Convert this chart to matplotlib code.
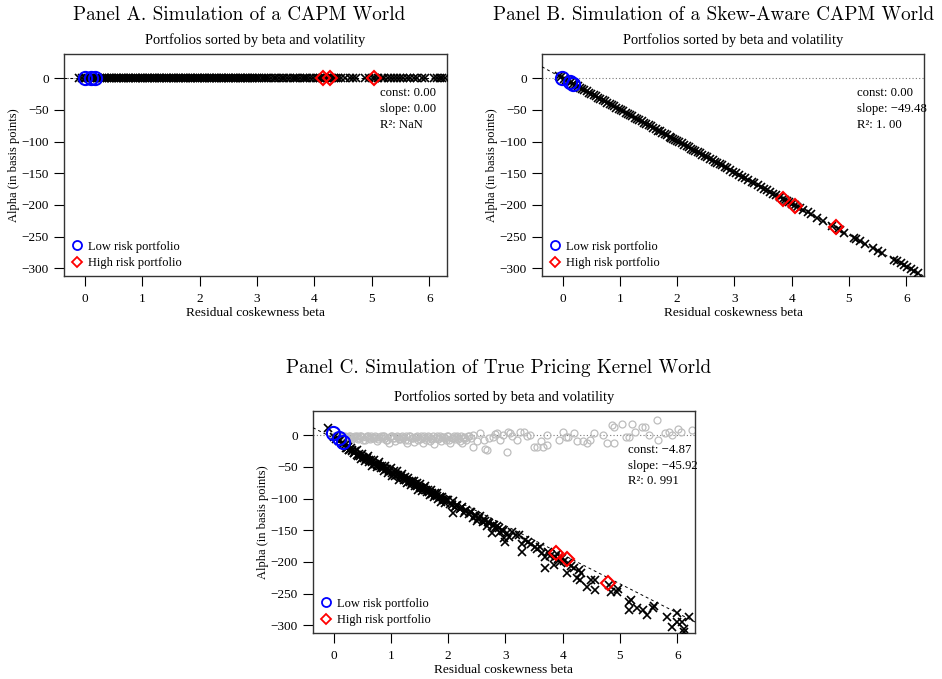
import matplotlib
matplotlib.use('Agg')
import matplotlib.pyplot as plt
from matplotlib.lines import Line2D

plt.rcParams['font.family'] = ['Liberation Serif', 'DejaVu Serif']

# ---------------- Data ----------------
xticks = [0, 1, 2, 3, 4, 5, 6]
yticks = [0, -50, -100, -150, -200, -250, -300]

# Panel A (CAPM world): all alphas zero
beta_a = [-0.10, -0.05, 0.00, 0.03, 0.06, 0.09, 0.12, 0.15, 0.18, 0.21, 0.24, 0.27, 0.30, 0.33,
          0.36, 0.39, 0.42, 0.45, 0.48, 0.51, 0.54, 0.57, 0.60, 0.63, 0.66, 0.69, 0.72, 0.75,
          0.78, 0.81, 0.84, 0.87, 0.90, 0.93, 0.96, 0.99, 1.02, 1.05, 1.08, 1.11, 1.14, 1.17,
          1.20, 1.23, 1.26, 1.29, 1.32, 1.35, 1.38, 1.41, 1.44, 1.47, 1.50, 1.53, 1.56, 1.59,
          1.62, 1.65, 1.68, 1.71, 1.74, 1.77, 1.80, 1.83, 1.86, 1.89, 1.92, 1.95, 1.98, 2.01,
          2.04, 2.07, 2.10, 2.13, 2.16, 2.19, 2.22, 2.25, 2.28, 2.31, 2.34, 2.37, 2.40, 2.43,
          2.46, 2.49, 2.52, 2.55, 2.58, 2.61, 2.64, 2.67, 2.70, 2.73, 2.76, 2.79, 2.82, 2.85,
          2.88, 2.91, 2.94, 2.97, 3.00, 3.04, 3.08, 3.12, 3.16, 3.20, 3.25, 3.30, 3.34, 3.38,
          3.43, 3.48, 3.52, 3.57, 3.62, 3.66, 3.70, 3.75, 3.80, 3.84, 3.88, 3.93, 3.97, 4.02,
          4.06, 4.10, 4.14, 4.18, 4.22, 4.26, 4.30, 4.34, 4.38, 4.42, 4.47, 4.53, 4.62, 4.68,
          4.72, 4.88, 4.95, 5.02, 5.06, 5.10, 5.18, 5.22, 5.28, 5.33, 5.38, 5.44, 5.50, 5.55,
          5.62, 5.67, 5.73, 5.78, 5.88, 5.92, 6.08, 6.13, 6.18, 6.22, 6.28]
alpha_a = [0.0] * len(beta_a)
low_beta_a = [0.00, 0.117, 0.175]
low_alpha_a = [0.0, 0.0, 0.0]
high_beta_a = [4.15, 4.28, 5.03]
high_alpha_a = [0.0, 0.0, 0.0]
fit_a = (0.0, 0.0)
stats_a = ["const: 0.00", "slope: 0.00", "R\u00b2: NaN"]

# Panel B (skew-aware CAPM world)
beta_b = [-0.06, -0.02, 0.02, 0.06, 0.10, 0.14, 0.18, 0.22, 0.26, 0.30, 0.34, 0.38, 0.42, 0.46,
          0.50, 0.54, 0.58, 0.62, 0.66, 0.70, 0.74, 0.78, 0.82, 0.86, 0.90, 0.94, 0.98, 1.02,
          1.06, 1.10, 1.14, 1.18, 1.22, 1.26, 1.30, 1.34, 1.38, 1.42, 1.46, 1.50, 1.54, 1.58,
          1.63, 1.67, 1.70, 1.74, 1.78, 1.82, 1.87, 1.90, 1.93, 1.97, 2.00, 2.04, 2.08, 2.12,
          2.17, 2.21, 2.25, 2.28, 2.32, 2.36, 2.40, 2.44, 2.48, 2.52, 2.58, 2.62, 2.66, 2.70,
          2.74, 2.78, 2.83, 2.87, 2.92, 2.98, 3.03, 3.08, 3.14, 3.19, 3.24, 3.30, 3.35, 3.41,
          3.46, 3.52, 3.57, 3.62, 3.68, 3.73, 3.80, 3.84, 3.88, 3.91, 3.95, 4.00, 4.05, 4.10,
          4.15, 4.20, 4.28, 4.34, 4.45, 4.55, 4.70, 4.80, 4.85, 4.92, 5.08, 5.13, 5.20, 5.28,
          5.42, 5.50, 5.58, 5.78, 5.84, 5.90, 5.96, 6.02, 6.08, 6.14, 6.20]
alpha_b = [2.97, 0.99, -0.99, -2.97, -4.95, -6.93, -8.91, -10.89, -12.86, -14.84, -16.82, -18.80,
           -20.78, -22.76, -24.74, -26.72, -28.70, -30.68, -32.66, -34.64, -36.62, -38.59, -40.57,
           -42.55, -44.53, -46.51, -48.49, -50.47, -52.45, -54.43, -56.41, -58.39, -60.37, -62.34,
           -64.32, -66.30, -68.28, -70.26, -72.24, -74.22, -76.20, -78.18,
           -80.65, -82.63, -84.12, -86.10, -88.07, -90.05, -92.53, -94.01, -95.50, -97.48, -98.96,
           -100.94, -102.92, -104.90, -107.37, -109.35, -111.33, -112.81, -114.79, -116.77,
           -118.75, -120.73, -122.71, -124.69, -127.66, -129.64, -131.62, -133.60, -135.58,
           -137.55, -140.03, -142.01, -144.48, -147.45, -149.92, -152.40, -155.37, -157.84,
           -160.32, -163.28, -165.76, -168.73, -171.20, -174.17, -176.64, -179.12, -182.09,
           -184.56, -188.02, -190.00, -191.98, -193.47, -195.45, -197.92, -200.39, -202.87,
           -205.34, -207.82, -211.77, -214.74, -220.19, -225.13, -232.56, -237.50, -239.98,
           -243.44, -251.36, -253.83, -257.30, -261.25, -268.18, -272.14, -276.10, -286.00,
           -288.96, -291.93, -294.90, -297.87, -300.84, -303.81, -306.78]
low_beta_b = [-0.01, 0.134, 0.19]
low_alpha_b = [-0.5, -5.8, -9.5]
high_beta_b = [3.84, 4.06, 4.77]
high_alpha_b = [-191.0, -202.0, -235.5]
fit_b = (0.0, -49.48)
stats_b = ["const: 0.00", "slope: \u221249.48", "R\u00b2: 1. 00"]

# Panel C (true pricing kernel world)
beta_c = [-0.10, 0.00, 0.05, 0.10, 0.12, 0.15, 0.17,
          0.200, 0.225, 0.250, 0.275, 0.300, 0.325, 0.350, 0.375, 0.400, 0.425, 0.450, 0.475,
          0.500, 0.525, 0.550, 0.575, 0.600, 0.625, 0.650, 0.675, 0.700, 0.725, 0.750, 0.775,
          0.800, 0.825, 0.850, 0.875, 0.900, 0.925, 0.950, 0.975, 1.000, 1.025, 1.050, 1.075,
          1.100, 1.125, 1.150, 1.175, 1.200, 1.225, 1.250, 1.275, 1.300, 1.325, 1.350, 1.375,
          1.400, 1.425, 1.450, 1.475, 1.500, 1.525, 1.550, 1.575, 1.600, 1.625, 1.650, 1.675,
          1.700, 1.725, 1.750, 1.775, 1.800, 1.825, 1.850, 1.875, 1.900, 1.925, 1.950, 1.975,
          2.000,
          0.2125, 0.2625, 0.3125, 0.3625, 0.4125, 0.4625, 0.5125, 0.5625, 0.6125, 0.6625,
          0.7125, 0.7625, 0.8125, 0.8625, 0.9125, 0.9625, 1.0125, 1.0625, 1.1125, 1.1625,
          1.2125, 1.2625, 1.3125, 1.3625, 1.4125, 1.4625, 1.5125, 1.5625, 1.6125, 1.6625,
          1.7125, 1.7625, 1.8125, 1.8625, 1.9125, 1.9625,
          2.04, 2.06, 2.08, 2.09, 2.12, 2.14, 2.16, 2.20, 2.22, 2.24, 2.28, 2.30, 2.32, 2.36,
          2.38, 2.40, 2.44, 2.46, 2.48, 2.50, 2.52, 2.54, 2.56, 2.60, 2.62, 2.64, 2.68, 2.70,
          2.72, 2.76, 2.78, 2.80, 2.82, 2.86, 2.88, 2.90, 2.94, 2.96, 2.98, 3.00, 3.02, 3.06,
          3.12, 3.18, 3.24, 3.29, 3.29, 3.34, 3.40, 3.45, 3.52, 3.55, 3.60, 3.64, 3.69, 3.69,
          3.74, 3.78, 3.84, 3.86, 3.90, 3.92, 3.95, 3.98, 4.02, 4.07, 4.10, 4.14, 4.20, 4.25,
          4.28, 4.30, 4.32, 4.42, 4.50, 4.57, 4.57, 4.80, 4.85, 4.95, 4.97, 5.15, 5.15, 5.20,
          5.30, 5.41, 5.47, 5.58, 5.60, 5.82, 5.91, 5.99, 5.99, 6.08, 6.11, 6.12, 6.20]
alpha_c = [11, -3, -6, -9, -8, -12, -14,
           -15, -20, -18, -23, -20, -24, -29, -25, -24, -33, -30, -38,
           -30, -36, -41, -36, -33, -43, -39, -48, -39, -45, -50, -45,
           -43, -52, -48, -57, -48, -54, -59, -55, -52, -65, -57, -64,
           -57, -63, -70, -64, -61, -70, -66, -76, -67, -74, -78, -73,
           -72, -80, -76, -86, -77, -83, -88, -83, -81, -89, -86, -95,
           -87, -93, -97, -92, -92, -100, -97, -105, -97, -103, -107, -103,
           -102,
           -20, -23, -25, -28, -31, -33, -35, -38, -40, -42,
           -45, -47, -49, -52, -54, -56, -59, -61, -63, -66,
           -68, -70, -73, -75, -77, -80, -82, -84, -87, -89,
           -91, -94, -96, -98, -101, -103,
           -108, -110, -104, -123, -114, -111, -110, -116, -115, -113, -123, -119, -118, -124,
           -121, -121, -131, -126, -127, -135, -132, -130, -128, -137, -133, -135, -143, -137,
           -138, -155, -141, -142, -146, -143, -147, -152, -149, -151, -162, -168, -154, -160,
           -152, -158, -157, -171, -184, -165, -168, -172, -176, -180, -177, -186, -192, -209,
           -185, -190, -205, -192, -188, -196, -200, -194, -198, -218, -201, -206, -210, -226,
           -213, -229, -218, -239, -228, -229, -244, -236, -248, -247, -242, -263, -276, -260,
           -273, -276, -283, -273, -270, -286, -302, -281, -294, -294, -305, -310, -286]
gray_beta_c = [0.00, 0.04, 0.08, 0.12, 0.16, 0.20, 0.24, 0.28, 0.32, 0.36, 0.40, 0.44, 0.48,
               0.52, 0.56, 0.60, 0.64, 0.68, 0.72, 0.76, 0.80, 0.84, 0.88, 0.92, 0.96, 1.00,
               1.04, 1.08, 1.12, 1.16, 1.20, 1.24, 1.28, 1.32, 1.36, 1.40, 1.44, 1.48, 1.52,
               1.56, 1.60, 1.64, 1.68, 1.72, 1.76, 1.80, 1.84, 1.88, 1.92, 1.96, 2.00, 2.04,
               2.08, 2.12, 2.16, 2.20, 2.24, 2.28, 2.32, 2.36,
               0.22, 0.26, 0.30, 0.34, 0.38, 0.42, 0.46, 0.50, 0.54, 0.58, 0.62, 0.66, 0.70,
               0.74, 0.78, 0.82, 0.86, 0.90, 0.94, 0.98, 1.02, 1.06, 1.10, 1.14, 1.18, 1.22,
               1.26, 1.30, 1.34, 1.38, 1.42, 1.46, 1.50, 1.54, 1.58, 1.62, 1.66, 1.70, 1.74,
               1.78, 1.82, 1.86, 1.90, 1.94, 1.98, 2.02, 2.06, 2.10, 2.14, 2.18, 2.22, 2.26,
               2.30, 2.34,
               2.40, 2.44, 2.44, 2.50, 2.55, 2.62, 2.65, 2.68, 2.72, 2.79, 2.82, 2.85, 2.90,
               2.95, 3.03, 3.05, 3.08, 3.12, 3.20, 3.25, 3.32, 3.38, 3.43, 3.50, 3.55, 3.62,
               3.66, 3.72, 3.72, 3.93, 4.01, 4.05, 4.10, 4.19, 4.25, 4.36, 4.42, 4.48, 4.54,
               4.71, 4.77, 4.86, 4.89, 4.89, 5.03, 5.10, 5.15, 5.21, 5.27, 5.38, 5.44, 5.50,
               5.64, 5.67, 5.79, 5.85, 5.91, 6.02, 6.06, 6.25]
gray_alpha_c = [-1, -2, -1, -3, -2, -1, -4, -2, -6, -3, -1, -5, -2, -8, -3, -1, -6, -4, -2, -9,
                -3, -5, -1, -7, -12, -2, -4, -10, -3, -6, -1, -8, -13, -2, -5, -11, -3, -7, -2,
                -12, -4, -1, -9, -6, -14, -2, -5, -10, -3, -8, -1, -12, -4, -6, -2, -9, -13, -3,
                -7, -1,
                -4, -1, -3, -5, -2, -6, -1, -3, -7, -2, -4, -1, -5, -3, -6, -2, -1, -4, -7, -3,
                -2, -5, -1, -6, -3, -4, -2, -8, -1, -5, -3, -2, -6, -4, -1, -7, -3, -5, -2, -4,
                -6, -1, -3, -5, -2, -7, -4, -1, -3, -6, -2, -5, -4, -1,
                -4, 0, -18, -10, 3, -8, -22, -24, -5, -3, 2, 3, -8, 0, -26, 5, 3, -2, -8, 5, 5,
                -2, 0, -18, -18, -10, -18, -16, 0, -8, 5, -3, -3, 3, -10, -10, -13, -8, 3, 0,
                -13, 16, -13, 13, 18, -3, -3, 18, 5, 13, 13, 0, 24, -8, 3, 5, 0, 10, 5, 8]
low_beta_c = [-0.01, 0.10, 0.16]
low_alpha_c = [2.6, -5.3, -10.5]
high_beta_c = [3.89, 4.07, 4.79]
high_alpha_c = [-185.5, -196.0, -233.8]
fit_c = (-4.87, -45.92)
stats_c = ["const: \u22124.87", "slope: \u221245.92", "R\u00b2: 0. 991"]

titles = ["Panel A. Simulation of a CAPM World",
          "Panel B. Simulation of a Skew-Aware CAPM World",
          "Panel C. Simulation of True Pricing Kernel World"]
subtitle = "Portfolios sorted by beta and volatility"
xlabel = "Residual coskewness beta"
ylabel = "Alpha (in basis points)"
legend_labels = ["Low risk portfolio", "High risk portfolio"]

# ---------------- Figure ----------------
W, H = 942, 679
fig = plt.figure(figsize=(W / 100, H / 100), dpi=100)

XLIM = (-0.36, 6.31)
YLIM = (-312, 38)
TFS = 9.5


def px_axes(l, t, r, b):
    return fig.add_axes([l / W, 1 - b / H, (r - l) / W, (b - t) / H])


def panel(ax, beta, alpha, lb, la, hb, ha, fit, stats, gray=None):
    ax.set_xlim(*XLIM)
    ax.set_ylim(*YLIM)
    ax.axhline(0, color='#777777', ls=(0, (1, 2)), lw=0.8, zorder=1)
    if gray is not None:
        ax.plot(gray[0], gray[1], ls='none', marker='o', ms=5.0, mfc='none',
                mec='#bdbdbd', mew=0.9, zorder=2)
    ax.plot(beta, alpha, ls='none', marker='x', ms=5.4, mec='black', mew=1.2, zorder=3)
    xs = list(XLIM)
    ax.plot(xs, [fit[0] + fit[1] * x for x in xs], color='black', ls=(0, (3, 3)),
            lw=0.7, zorder=4)
    ax.plot(lb, la, ls='none', marker='o', ms=9.5, mfc='none', mec='#0000ff', mew=1.5, zorder=5)
    ax.plot(hb, ha, ls='none', marker='D', ms=7.6, mfc='none', mec='#ff0000', mew=1.5, zorder=5)
    ax.set_xticks(xticks)
    ax.set_yticks(yticks)
    ax.tick_params(direction='out', length=7, width=0.8, labelsize=TFS, pad=4)
    ax.tick_params(axis='x', pad=5)
    for s in ax.spines.values():
        s.set_linewidth(1.0)
        s.set_color('#333333')
    ax.set_xlabel(xlabel, fontsize=9.6, labelpad=2)
    ax.set_ylabel(ylabel, fontsize=9.0, labelpad=1)
    ax.set_title(subtitle, fontsize=10.4, pad=7)
    ax.text(0.825, 0.85, "\n".join(stats), transform=ax.transAxes, fontsize=9.2,
            va='top', ha='left', linespacing=1.4, clip_on=False)
    handles = [Line2D([], [], ls='none', marker='o', ms=6.5, mfc='none', mec='#0000ff', mew=1.3),
               Line2D([], [], ls='none', marker='D', ms=5.2, mfc='none', mec='#ff0000', mew=1.3)]
    ax.legend(handles, legend_labels, loc='lower left', frameon=False, fontsize=9.0,
              handlelength=1.0, handletextpad=0.4, borderaxespad=0.3, labelspacing=0.35,
              borderpad=0.25)


ax_a = px_axes(64, 54, 447, 276)
panel(ax_a, beta_a, alpha_a, low_beta_a, low_alpha_a, high_beta_a, high_alpha_a, fit_a, stats_a)
ax_b = px_axes(542, 54, 924, 276)
panel(ax_b, beta_b, alpha_b, low_beta_b, low_alpha_b, high_beta_b, high_alpha_b, fit_b, stats_b)
ax_c = px_axes(313, 411, 695, 633)
panel(ax_c, beta_c, alpha_c, low_beta_c, low_alpha_c, high_beta_c, high_alpha_c, fit_c, stats_c,
      gray=(gray_beta_c, gray_alpha_c))

title_font = dict(family=['cmr10', 'DejaVu Serif'], fontsize=13.8, ha='center', va='center')
fig.text(239 / W, 1 - 15 / H, titles[0], **title_font)
fig.text(714 / W, 1 - 15 / H, titles[1], **title_font)
fig.text(499 / W, 1 - 368 / H, titles[2], **title_font)

fig.savefig("out.png", dpi=100)
